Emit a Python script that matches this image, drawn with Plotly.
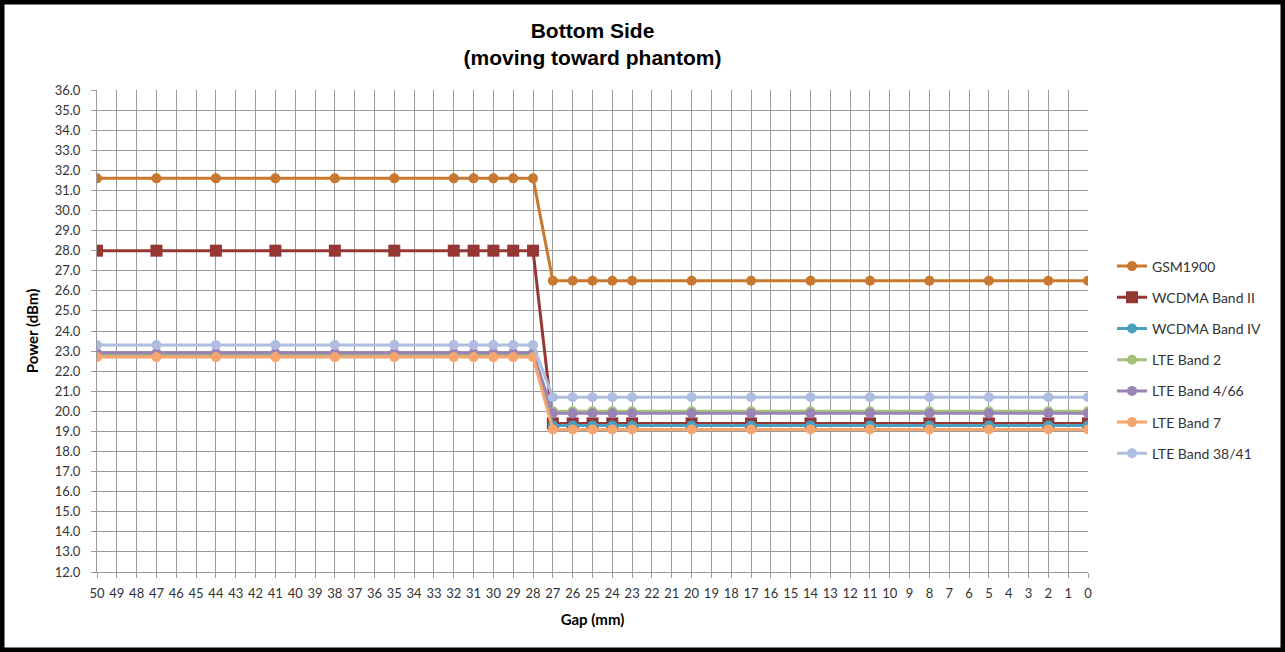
import plotly.graph_objects as go

gap_mm = [50, 47, 44, 41, 38, 35, 32, 31, 30, 29, 28,
          27, 26, 25, 24, 23, 20, 17, 14, 11, 8, 5, 2, 0]

gsm1900 = [31.6, 31.6, 31.6, 31.6, 31.6, 31.6, 31.6, 31.6, 31.6, 31.6, 31.6,
           26.5, 26.5, 26.5, 26.5, 26.5, 26.5, 26.5, 26.5, 26.5, 26.5, 26.5, 26.5, 26.5]
wcdma_b2 = [28.0, 28.0, 28.0, 28.0, 28.0, 28.0, 28.0, 28.0, 28.0, 28.0, 28.0,
            19.4, 19.4, 19.4, 19.4, 19.4, 19.4, 19.4, 19.4, 19.4, 19.4, 19.4, 19.4, 19.4]
wcdma_b4 = [22.8, 22.8, 22.8, 22.8, 22.8, 22.8, 22.8, 22.8, 22.8, 22.8, 22.8,
            19.3, 19.3, 19.3, 19.3, 19.3, 19.3, 19.3, 19.3, 19.3, 19.3, 19.3, 19.3, 19.3]
lte_b2 = [22.8, 22.8, 22.8, 22.8, 22.8, 22.8, 22.8, 22.8, 22.8, 22.8, 22.8,
          20.0, 20.0, 20.0, 20.0, 20.0, 20.0, 20.0, 20.0, 20.0, 20.0, 20.0, 20.0, 20.0]
lte_b4_66 = [22.9, 22.9, 22.9, 22.9, 22.9, 22.9, 22.9, 22.9, 22.9, 22.9, 22.9,
             19.9, 19.9, 19.9, 19.9, 19.9, 19.9, 19.9, 19.9, 19.9, 19.9, 19.9, 19.9, 19.9]
lte_b7 = [22.7, 22.7, 22.7, 22.7, 22.7, 22.7, 22.7, 22.7, 22.7, 22.7, 22.7,
          19.1, 19.1, 19.1, 19.1, 19.1, 19.1, 19.1, 19.1, 19.1, 19.1, 19.1, 19.1, 19.1]
lte_b38_41 = [23.3, 23.3, 23.3, 23.3, 23.3, 23.3, 23.3, 23.3, 23.3, 23.3, 23.3,
              20.7, 20.7, 20.7, 20.7, 20.7, 20.7, 20.7, 20.7, 20.7, 20.7, 20.7, 20.7, 20.7]

series_names = ["GSM1900", "WCDMA Band II", "WCDMA Band IV", "LTE Band 2",
                "LTE Band 4/66", "LTE Band 7", "LTE Band 38/41"]
series_values = [gsm1900, wcdma_b2, wcdma_b4, lte_b2, lte_b4_66, lte_b7, lte_b38_41]
series_colors = ["#C8782F", "#953735", "#4A9FBF", "#A5C27A", "#9A84B6", "#F6A56E", "#AEBDE0"]
series_symbols = ["circle", "square", "circle", "circle", "circle", "circle", "circle"]
series_msize = [10, 12, 10, 10, 10, 10, 10]

x_ticks = list(range(50, -1, -1))

W, H = 1285, 652
ML, MR, MT, MB = 97, 197, 90, 80
PW, PH = W - ML - MR, H - MT - MB

fig = go.Figure()
for name, vals, col, sym, ms in zip(series_names, series_values, series_colors,
                                    series_symbols, series_msize):
    fig.add_trace(go.Scatter(
        x=gap_mm, y=vals, name=name, mode="lines+markers",
        line=dict(color=col, width=3),
        marker=dict(color=col, symbol=sym, size=ms),
        legendgroup=name,
    ))

axis_font = dict(family="Lato", size=13, color="#333333")

fig.update_layout(
    width=W, height=H,
    margin=dict(l=ML, r=MR, t=MT, b=MB),
    paper_bgcolor="white", plot_bgcolor="white",
    title=dict(text="<b>Bottom Side<br>(moving toward phantom)</b>",
               x=(ML + PW / 2) / W, xanchor="center", y=1 - 38 / H, yanchor="top",
               font=dict(family="Liberation Sans", size=21, color="#000000")),
    xaxis=dict(
        range=[50, 0], tickmode="array", tickvals=x_ticks,
        ticktext=[str(v) for v in x_ticks],
        showgrid=True, gridcolor="#9a9a9a", gridwidth=1,
        showline=True, linecolor="#9a9a9a", linewidth=1,
        ticks="outside", ticklen=5, tickcolor="#9a9a9a",
        tickfont=axis_font, ticklabelstandoff=4,
        zeroline=False,
        title=dict(text="<b>Gap (mm)</b>", standoff=14,
                   font=dict(family="Lato", size=15, color="#000000")),
    ),
    yaxis=dict(
        range=[12, 36], dtick=1, tickformat=".1f",
        showgrid=True, gridcolor="#9a9a9a", gridwidth=1,
        showline=True, linecolor="#9a9a9a", linewidth=1,
        ticks="outside", ticklen=5, tickcolor="#9a9a9a",
        tickfont=axis_font, ticklabelstandoff=8,
        zeroline=False,
        title=dict(text="<b>Power (dBm)</b>", standoff=12,
                   font=dict(family="Lato", size=15, color="#000000")),
    ),
    legend=dict(
        x=(1112 - ML) / PW, xanchor="left",
        y=(H - MB - 360) / PH, yanchor="middle",
        font=dict(family="Lato", size=14, color="#333333"),
        tracegroupgap=10, bgcolor="rgba(0,0,0,0)",
        traceorder="grouped",
    ),
    showlegend=True,
)

fig.add_shape(type="rect", xref="paper", yref="paper",
              x0=-ML / PW, x1=1 + MR / PW, y0=-MB / PH, y1=1 + MT / PH,
              line=dict(color="black", width=9), fillcolor="rgba(0,0,0,0)",
              layer="above")

fig.write_html("out.html",
               config={"displayModeBar": False},
               post_script="document.body.style.margin='0';document.body.style.overflow='hidden';")
